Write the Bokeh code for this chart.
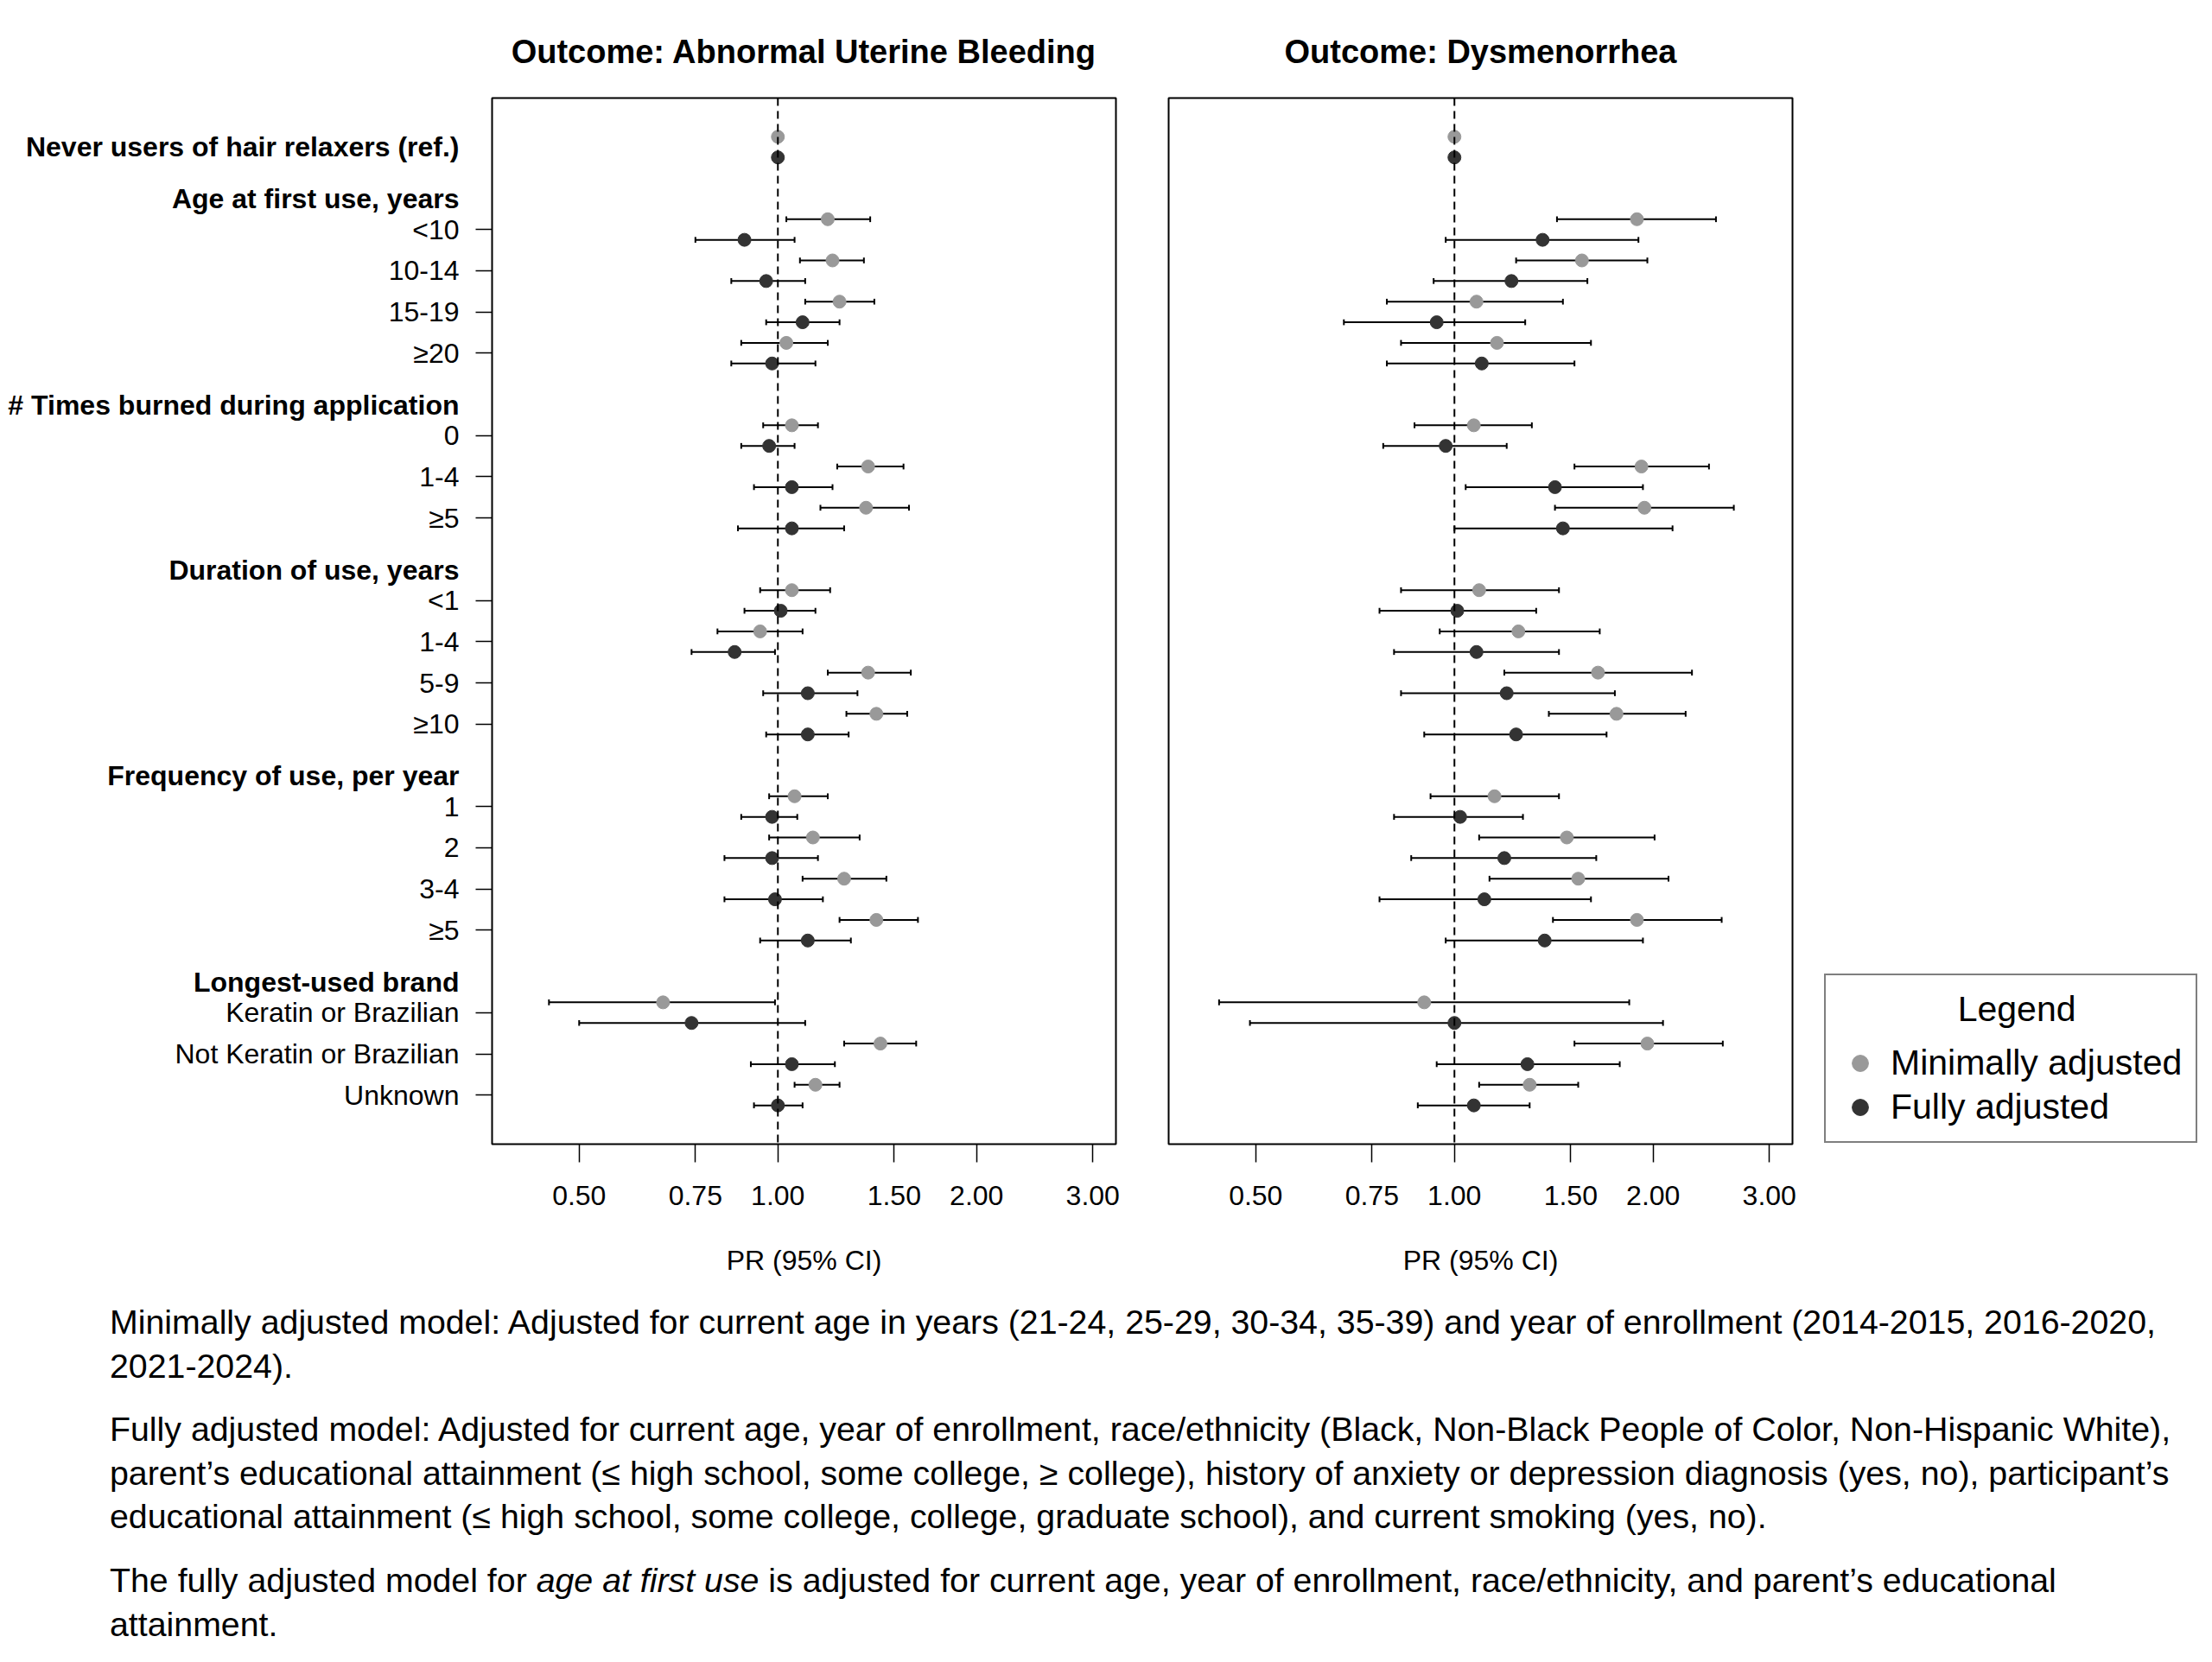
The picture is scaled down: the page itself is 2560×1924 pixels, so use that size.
import math
from bokeh.plotting import figure
from bokeh.models import (Range1d, FixedTicker, Span, Legend, LegendItem,
                          ColumnDataSource, Div)
from bokeh.core.properties import value
from bokeh.layouts import row, column
from bokeh.embed import file_html
from bokeh.resources import INLINE

FONT = "Liberation Sans"

# ---------------- data ----------------
panel_titles = ["Outcome: Abnormal Uterine Bleeding", "Outcome: Dysmenorrhea"]
ref_label = "Never users of hair relaxers (ref.)"
ref_pr = 1.0
group_headers = ["Age at first use, years", "# Times burned during application",
                 "Duration of use, years", "Frequency of use, per year", "Longest-used brand"]
group_items = [["<10", "10-14", "15-19", "≥20"],
               ["0", "1-4", "≥5"],
               ["<1", "1-4", "5-9", "≥10"],
               ["1", "2", "3-4", "≥5"],
               ["Keratin or Brazilian", "Not Keratin or Brazilian", "Unknown"]]
series_names = ["Minimally adjusted", "Fully adjusted"]
legend_title = "Legend"

# Abnormal uterine bleeding
aub_min_pr = [1.19, 1.21, 1.24, 1.03, 1.05, 1.37, 1.36, 1.05, 0.94, 1.37, 1.41, 1.06, 1.13, 1.26, 1.41, 0.67, 1.43, 1.14]
aub_min_lo = [1.03, 1.08, 1.10, 0.88, 0.95, 1.23, 1.16, 0.94, 0.81, 1.19, 1.27, 0.97, 0.97, 1.09, 1.24, 0.45, 1.26, 1.06]
aub_min_hi = [1.38, 1.35, 1.40, 1.19, 1.15, 1.55, 1.58, 1.20, 1.09, 1.59, 1.57, 1.19, 1.33, 1.46, 1.63, 0.99, 1.62, 1.24]
aub_full_pr = [0.89, 0.96, 1.09, 0.98, 0.97, 1.05, 1.05, 1.01, 0.86, 1.11, 1.11, 0.98, 0.98, 0.99, 1.11, 0.74, 1.05, 1.00]
aub_full_lo = [0.75, 0.85, 0.96, 0.85, 0.88, 0.92, 0.87, 0.89, 0.74, 0.95, 0.96, 0.88, 0.83, 0.83, 0.94, 0.50, 0.91, 0.92]
aub_full_hi = [1.06, 1.10, 1.24, 1.14, 1.06, 1.21, 1.26, 1.14, 0.99, 1.32, 1.28, 1.07, 1.15, 1.17, 1.29, 1.10, 1.22, 1.09]

# Dysmenorrhea
dys_min_pr = [1.89, 1.56, 1.08, 1.16, 1.07, 1.92, 1.94, 1.09, 1.25, 1.65, 1.76, 1.15, 1.48, 1.54, 1.89, 0.90, 1.96, 1.30]
dys_min_lo = [1.43, 1.24, 0.79, 0.83, 0.87, 1.52, 1.42, 0.83, 0.95, 1.19, 1.39, 0.92, 1.09, 1.13, 1.41, 0.44, 1.52, 1.09]
dys_min_hi = [2.49, 1.96, 1.46, 1.61, 1.31, 2.43, 2.65, 1.44, 1.66, 2.29, 2.24, 1.44, 2.01, 2.11, 2.54, 1.84, 2.55, 1.54]
dys_full_pr = [1.36, 1.22, 0.94, 1.10, 0.97, 1.42, 1.46, 1.01, 1.08, 1.20, 1.24, 1.02, 1.19, 1.11, 1.37, 1.00, 1.29, 1.07]
dys_full_lo = [0.97, 0.93, 0.68, 0.79, 0.78, 1.04, 1.00, 0.77, 0.81, 0.83, 0.90, 0.81, 0.86, 0.77, 0.97, 0.49, 0.94, 0.88]
dys_full_hi = [1.90, 1.59, 1.28, 1.52, 1.20, 1.93, 2.14, 1.33, 1.44, 1.75, 1.70, 1.27, 1.64, 1.61, 1.93, 2.07, 1.78, 1.30]

tick_values = [0.5, 0.75, 1.0, 1.5, 2.0, 3.0]
tick_labels = ["0.50", "0.75", "1.00", "1.50", "2.00", "3.00"]
x_label = "PR (95% CI)"
x_limits = (0.4, 3.0)

note_1 = ("Minimally adjusted model: Adjusted for current age in years (21-24, 25-29, 30-34, 35-39) "
          "and year of enrollment (2014-2015, 2016-2020,<br>2021-2024).")
note_2 = ("Fully adjusted model: Adjusted for current age, year of enrollment, race/ethnicity (Black, "
          "Non-Black People of Color, Non-Hispanic White),<br>parent’s educational attainment (≤ high school, "
          "some college, ≥ college), history of anxiety or depression diagnosis (yes, no), participant’s<br>"
          "educational attainment (≤ high school, some college, college, graduate school), and current smoking (yes, no).")
note_3 = ("The fully adjusted model for <i>age at first use</i> is adjusted for current age, year of enrollment, "
          "race/ethnicity, and parent’s educational<br>attainment.")

# ---------------- styling / layout ----------------
MIN_COLOR = "#999999"
FULL_COLOR = "#333333"
OFF = 0.25
TOP, BOTTOM = 113, 176
FRAME_W, FRAME_H = 722, 1211

# rows (derived from group structure)
item_rows, header_rows, item_labels = [], [], []
r = 1
for hdr, items in zip(group_headers, group_items):
    header_rows.append(r + 0.26)
    r += 1
    for it in items:
        item_rows.append(r)
        item_labels.append(it)
        r += 1
last_row = item_rows[-1]
ypad = 0.04 * (last_row + 2 * OFF)
y_lims = (last_row + OFF + ypad, -OFF - ypad)
lx0, lx1 = math.log(x_limits[0]), math.log(x_limits[1])
xpad = 0.04 * (lx1 - lx0)
x_lims = (math.exp(lx0 - xpad), math.exp(lx1 + xpad))


def blank(p):
    p.xgrid.visible = False
    p.ygrid.visible = False
    p.outline_line_color = None
    p.background_fill_color = "white"
    p.border_fill_color = "white"


# ---- label column (its own frame, shares the row scale) ----
p0 = figure(x_range=Range1d(0, 1), y_range=Range1d(*y_lims), frame_width=545, frame_height=FRAME_H,
            min_border_left=0, min_border_right=0, min_border_top=TOP, min_border_bottom=BOTTOM,
            x_axis_location=None, y_axis_location=None, output_backend="svg", toolbar_location=None)
blank(p0)
bold_src = ColumnDataSource(dict(x=[1] * (1 + len(group_headers)), y=[0] + header_rows,
                                 t=[ref_label] + group_headers))
item_src = ColumnDataSource(dict(x=[1] * len(item_rows), y=item_rows, t=item_labels))
p0.text(x="x", y="y", text="t", source=bold_src, x_offset=-14, text_align="right",
        text_baseline="middle", text_font=value(FONT), text_font_size=value("32px"),
        text_font_style="bold", text_color="black")
p0.text(x="x", y="y", text="t", source=item_src, x_offset=-14, text_align="right",
        text_baseline="middle", text_font=value(FONT), text_font_size=value("32px"),
        text_font_style="normal", text_color="black")


def add_series(p, pr, lo, hi, rows, offset, color):
    ys = [rr + offset for rr in rows]
    src = ColumnDataSource(dict(pr=pr, lo=lo, hi=hi, y=ys,
                                yt=[v - 0.07 for v in ys], yb=[v + 0.07 for v in ys]))
    p.segment(x0="lo", x1="hi", y0="y", y1="y", source=src, line_color="black", line_width=2)
    p.segment(x0="lo", x1="lo", y0="yt", y1="yb", source=src, line_color="black", line_width=2)
    p.segment(x0="hi", x1="hi", y0="yt", y1="yb", source=src, line_color="black", line_width=2)
    rsrc = ColumnDataSource(dict(pr=[ref_pr], y=[0 + offset]))
    p.scatter(x="pr", y="y", source=rsrc, size=15, marker="circle", fill_color=color, line_color=color)
    return p.scatter(x="pr", y="y", source=src, size=15, marker="circle", fill_color=color, line_color=color)


def make_panel(title, mins, fulls, left_ticks, bl, br):
    p = figure(x_axis_type="log", x_range=Range1d(*x_lims), y_range=Range1d(*y_lims),
               frame_width=FRAME_W, frame_height=FRAME_H,
               min_border_left=bl, min_border_right=br, min_border_top=TOP, min_border_bottom=BOTTOM,
               output_backend="svg", toolbar_location=None,
               y_axis_location="left" if left_ticks else None, title=title)
    p.title.text_font = FONT
    p.title.text_font_size = "38px"
    p.title.text_font_style = "bold"
    p.title.align = "center"
    p.title.text_color = "black"
    p.title.standoff = 65
    blank(p)
    p.outline_line_color = "black"
    p.outline_line_width = 2
    p.outline_line_alpha = 1

    xa = p.xaxis[0]
    xa.ticker = FixedTicker(ticks=tick_values, minor_ticks=[])
    xa.major_label_overrides = {v: s for v, s in zip(tick_values, tick_labels)}
    xa.axis_line_color = None
    xa.major_tick_in = 0
    xa.major_tick_out = 21
    xa.major_tick_line_width = 1.5
    xa.major_tick_line_color = "black"
    xa.minor_tick_line_color = None
    xa.major_label_text_font = FONT
    xa.major_label_text_font_size = "32px"
    xa.major_label_text_color = "black"
    xa.major_label_standoff = 27
    xa.axis_label = x_label
    xa.axis_label_text_font = FONT
    xa.axis_label_text_font_size = "32px"
    xa.axis_label_text_font_style = "normal"
    xa.axis_label_text_color = "black"
    xa.axis_label_standoff = 43

    if left_ticks:
        ya = p.yaxis[0]
        ya.ticker = FixedTicker(ticks=item_rows, minor_ticks=[])
        ya.major_label_overrides = {rr: "" for rr in item_rows}
        ya.axis_line_color = None
        ya.major_tick_in = 0
        ya.major_tick_out = 19
        ya.major_tick_line_width = 1.5
        ya.major_tick_line_color = "black"
        ya.minor_tick_line_color = None
        ya.major_label_standoff = 0

    p.add_layout(Span(location=1.0, dimension="height", line_color="black",
                      line_width=2, line_dash="9 6"))
    add_series(p, *mins, item_rows, -OFF, MIN_COLOR)
    add_series(p, *fulls, item_rows, OFF, FULL_COLOR)
    return p


p1 = make_panel(panel_titles[0], (aub_min_pr, aub_min_lo, aub_min_hi),
                (aub_full_pr, aub_full_lo, aub_full_hi), True, 24, 30)
p2 = make_panel(panel_titles[1], (dys_min_pr, dys_min_lo, dys_min_hi),
                (dys_full_pr, dys_full_lo, dys_full_hi), False, 31, 10)

# ---- legend panel (key glyphs carry the series styles; no visible data) ----
p3 = figure(x_range=Range1d(0, 1), y_range=Range1d(0, 1), frame_width=468, frame_height=FRAME_H,
            min_border_left=0, min_border_right=0, min_border_top=TOP, min_border_bottom=BOTTOM,
            x_axis_location=None, y_axis_location=None, output_backend="svg", toolbar_location=None)
blank(p3)
key_src = ColumnDataSource(dict(x=[float("nan")], y=[float("nan")]))
lm = p3.scatter(x="x", y="y", source=key_src, size=15, marker="circle",
                fill_color=MIN_COLOR, line_color=MIN_COLOR)
lf = p3.scatter(x="x", y="y", source=key_src, size=15, marker="circle",
                fill_color=FULL_COLOR, line_color=FULL_COLOR)
legend = Legend(items=[LegendItem(label=series_names[0], renderers=[lm], index=0),
                       LegendItem(label=series_names[1], renderers=[lf], index=0)],
                location=(27, 1), title="\u00a0" * 12 + legend_title,
                title_text_font=FONT, title_text_font_size="41px", title_text_font_style="normal",
                title_text_color="black", title_standoff=15,
                label_text_font=FONT, label_text_font_size="41px", label_text_color="black",
                glyph_width=47, glyph_height=47, label_standoff=12, spacing=4,
                padding=16, margin=0, border_line_color="black", border_line_width=2,
                background_fill_color="white", background_fill_alpha=1)
p3.add_layout(legend, "center")

notes_html = (
    f"<div style=\"font-family:'{FONT}',Arial,sans-serif;font-size:39.3px;line-height:50.6px;"
    f"color:black;padding-left:122px;white-space:nowrap;\">"
    f"<p style='margin:0 0 23px 0'>{note_1}</p>"
    f"<p style='margin:0 0 23px 0'>{note_2}</p>"
    f"<p style='margin:0'>{note_3}</p></div>"
)
notes = Div(text=notes_html, width=2552, height=400)

layout = column(row(p0, p1, p2, p3), notes)
open("out.html", "w").write(file_html(layout, INLINE))
